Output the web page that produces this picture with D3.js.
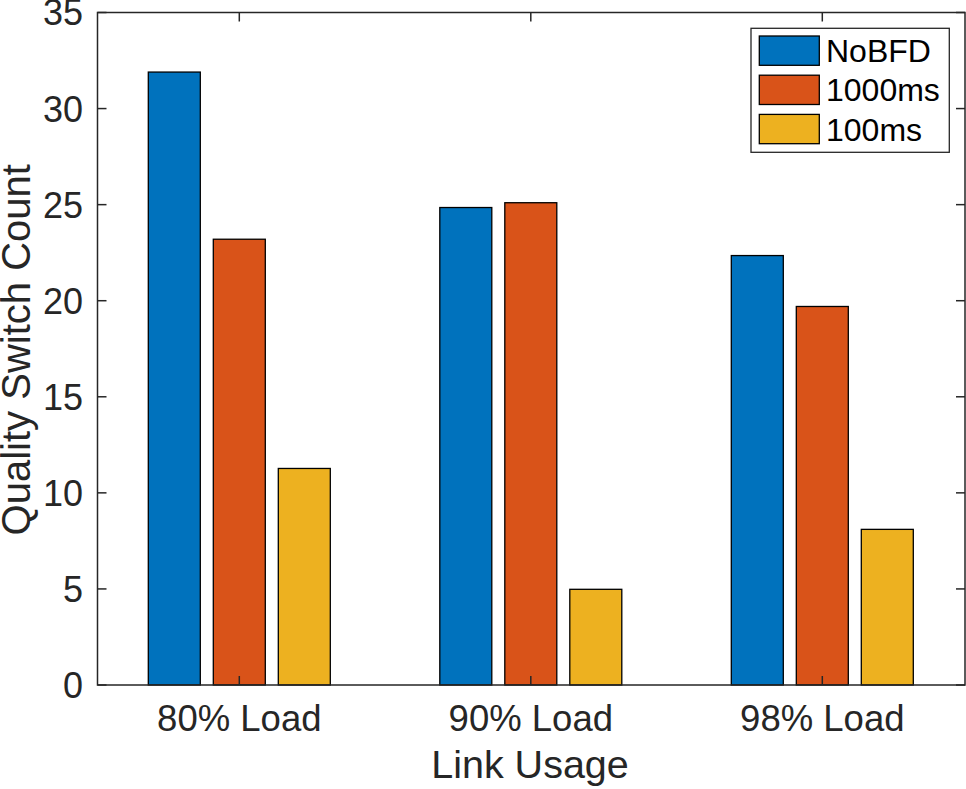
<!DOCTYPE html>
<html>
<head>
<meta charset="utf-8">
<script src="https://cdn.jsdelivr.net/npm/d3@7"></script>
<style>
  body { margin: 0; background: #fff; }
  text { font-family: "Liberation Sans", Arial, Helvetica, sans-serif; }
</style>
</head>
<body>
<div class="canvas"></div>
<script>
// Data
const categories = ['80% Load', '90% Load', '98% Load'];
const seriesNames = ['NoBFD', '1000ms', '100ms'];
const noBFD = [31.9, 24.85, 22.35];
const ms1000 = [23.2, 25.1, 19.7];
const ms100 = [11.27, 4.98, 8.1];
const yTicks = [0, 5, 10, 15, 20, 25, 30, 35];

const colors = ['#0072BD', '#D95319', '#EDB120'];
const series = [noBFD, ms1000, ms100];

const dims = { width: 966, height: 789 };
const box = { left: 97.5, right: 965, top: 12.5, bottom: 685 };
const axisColor = '#262626';

const svg = d3.select('.canvas')
    .append('svg')
    .attr('width', dims.width)
    .attr('height', dims.height);

const x = d3.scaleLinear()
    .domain([1, 3])
    .range([239.3, 822.3]);

const y = d3.scaleLinear()
    .domain([0, 35])
    .range([box.bottom, box.top]);

// bar geometry in category units
const barW = 52 / 291.5;
const barStep = 65 / 291.5;

const rows = [];
categories.forEach((c, i) => {
    series.forEach((s, j) => {
        rows.push({ cat: i + 1, s: j, value: s[i] });
    });
});

svg.append('g').selectAll('rect')
    .data(rows)
    .enter()
    .append('rect')
        .attr('x', d => x(d.cat + (d.s - 1) * barStep - barW / 2))
        .attr('width', d => x(d.cat + barW / 2) - x(d.cat - barW / 2))
        .attr('y', d => y(d.value))
        .attr('height', d => y(0) - y(d.value))
        .attr('fill', d => colors[d.s])
        .attr('stroke', '#000')
        .attr('stroke-width', 1.3);

// Axes box
const axisG = svg.append('g')
    .attr('stroke', axisColor)
    .attr('stroke-width', 1.5)
    .attr('fill', 'none');

axisG.append('rect')
    .attr('x', box.left)
    .attr('y', box.top)
    .attr('width', box.right - box.left)
    .attr('height', box.bottom - box.top);

const tickLen = 9;

// y ticks (left and right, inward)
axisG.selectAll('.ytl')
    .data(yTicks)
    .enter()
    .append('line')
        .attr('x1', box.left)
        .attr('x2', box.left + tickLen)
        .attr('y1', d => y(d))
        .attr('y2', d => y(d));

axisG.selectAll('.ytr')
    .data(yTicks)
    .enter()
    .append('line')
        .attr('x1', box.right)
        .attr('x2', box.right - tickLen)
        .attr('y1', d => y(d))
        .attr('y2', d => y(d));

// x ticks (bottom and top, inward)
axisG.selectAll('.xtb')
    .data(categories)
    .enter()
    .append('line')
        .attr('x1', (d, i) => x(i + 1))
        .attr('x2', (d, i) => x(i + 1))
        .attr('y1', box.bottom)
        .attr('y2', box.bottom - tickLen);

axisG.selectAll('.xtt')
    .data(categories)
    .enter()
    .append('line')
        .attr('x1', (d, i) => x(i + 1))
        .attr('x2', (d, i) => x(i + 1))
        .attr('y1', box.top)
        .attr('y2', box.top + tickLen);

// tick labels
svg.append('g').selectAll('text')
    .data(yTicks)
    .enter()
    .append('text')
        .attr('x', 83)
        .attr('y', d => y(d))
        .attr('dy', '0.36em')
        .attr('text-anchor', 'end')
        .attr('font-size', 36)
        .attr('fill', axisColor)
        .text(d => d);

svg.append('g').selectAll('text')
    .data(categories)
    .enter()
    .append('text')
        .attr('x', (d, i) => x(i + 1))
        .attr('y', 731)
        .attr('text-anchor', 'middle')
        .attr('font-size', 36.5)
        .attr('fill', axisColor)
        .text(d => d);

// axis labels
svg.append('text')
    .attr('x', 530)
    .attr('y', 778)
    .attr('text-anchor', 'middle')
    .attr('font-size', 39.5)
    .attr('fill', axisColor)
    .text('Link Usage');

svg.append('text')
    .attr('transform', `translate(30, ${(box.top + box.bottom) / 2 + 1}) rotate(-90)`)
    .attr('text-anchor', 'middle')
    .attr('font-size', 40)
    .attr('fill', axisColor)
    .text('Quality Switch Count');

// Legend Group
const legendGroup = svg.append('g');

legendGroup.append('rect')
    .attr('x', 751)
    .attr('y', 28.3)
    .attr('width', 198.3)
    .attr('height', 124)
    .attr('fill', '#fff')
    .attr('stroke', axisColor)
    .attr('stroke-width', 1.3);

const items = legendGroup.selectAll('g')
    .data(seriesNames)
    .enter()
    .append('g')
        .attr('transform', (d, i) => `translate(0, ${36 + i * 39.2})`);

items.append('rect')
    .attr('x', 759.3)
    .attr('y', 0)
    .attr('width', 60)
    .attr('height', 29.3)
    .attr('fill', (d, i) => colors[i])
    .attr('stroke', '#000')
    .attr('stroke-width', 1.3);

items.append('text')
    .attr('x', 826)
    .attr('y', 14.6)
    .attr('dy', '0.36em')
    .attr('font-size', 32)
    .attr('fill', '#000')
    .text(d => d);
</script>
</body>
</html>
